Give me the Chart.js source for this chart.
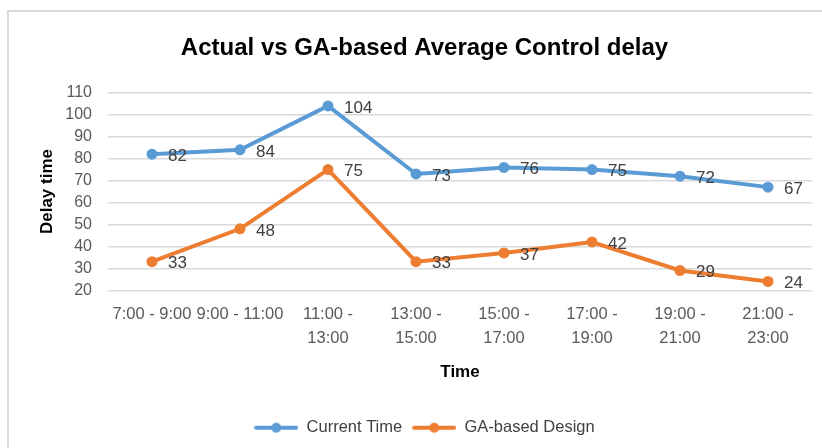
<!DOCTYPE html>
<html>
<head>
<meta charset="utf-8">
<script src="https://cdn.jsdelivr.net/npm/chart.js@4/dist/chart.umd.min.js"></script>
<style>
  html, body { margin: 0; padding: 0; background: #fff; overflow: hidden; }
  #frame { position: absolute; left: 7px; top: 10px; width: 840px; height: 460px; border: 2px solid #d9d9d9; }
  #wrap { position: absolute; left: 0; top: 0; width: 822px; height: 448px; }
</style>
</head>
<body>
<div id="frame"></div>
<div id="wrap"><canvas id="delayChart"></canvas></div>
<script>
const timeSlots = [
   '7:00 - 9:00', '9:00 - 11:00', ['11:00 -', '13:00'], ['13:00 -', '15:00'],
   ['15:00 -', '17:00'], ['17:00 -', '19:00'], ['19:00 -', '21:00'], ['21:00 -', '23:00']
];
const currentTime = [82, 84, 104, 73, 76, 75, 72, 67];
const gaBasedDesign = [33, 48, 75, 33, 37, 42, 29, 24];

const FONT = "'Liberation Sans', Arial, sans-serif";
const BLUE = '#5b9bd5';
const ORANGE = '#ed7d31';

// legend marker: line with a dot, like the office chart
function legendMarker(color) {
   const c = document.createElement('canvas');
   c.width = 44; c.height = 12;
   const ctx = c.getContext('2d');
   ctx.strokeStyle = color;
   ctx.lineWidth = 4;
   ctx.lineCap = 'round';
   ctx.beginPath(); ctx.moveTo(2, 6); ctx.lineTo(42, 6); ctx.stroke();
   ctx.fillStyle = color;
   ctx.beginPath(); ctx.arc(22, 6, 5, 0, Math.PI * 2); ctx.fill();
   return c;
}

// value labels to the right of each point
const valueLabels = {
   id: 'valueLabels',
   afterDatasetsDraw(chart) {
      const ctx = chart.ctx;
      ctx.save();
      ctx.font = '17px ' + FONT;
      ctx.fillStyle = '#404040';
      ctx.textAlign = 'left';
      ctx.textBaseline = 'middle';
      chart.data.datasets.forEach((ds, i) => {
         chart.getDatasetMeta(i).data.forEach((pt, j) => {
            ctx.fillText(ds.data[j], pt.x + 16, pt.y + 2);
         });
      });
      ctx.restore();
   }
};

const dataLine = {
   labels: timeSlots,
   datasets: [
      {
         label: 'Current Time',
         data: currentTime,
         borderColor: BLUE,
         backgroundColor: BLUE,
         borderWidth: 4,
         pointRadius: 5.5,
         pointBorderWidth: 0,
         tension: 0
      },
      {
         label: 'GA-based Design',
         data: gaBasedDesign,
         borderColor: ORANGE,
         backgroundColor: ORANGE,
         borderWidth: 4,
         pointRadius: 5.5,
         pointBorderWidth: 0,
         tension: 0
      }
   ]
};

const configLine = {
   type: 'line',
   data: dataLine,
   plugins: [valueLabels],
   options: {
      responsive: true,
      maintainAspectRatio: false,
      animation: false,
      layout: { padding: { left: 37, right: 10, top: 20, bottom: 2 } },
      plugins: {
         title: {
            display: true,
            text: 'Actual vs GA-based Average Control delay',
            color: '#000',
            font: { family: FONT, size: 24, weight: 'bold' },
            padding: { top: 14, bottom: 30 }
         },
         legend: {
            position: 'bottom',
            labels: {
               color: '#404040',
               font: { family: FONT, size: 16.5 },
               usePointStyle: true,
               pointStyleWidth: 44,
               padding: 10,
               generateLabels(chart) {
                  return chart.data.datasets.map((ds, i) => ({
                     text: ds.label,
                     pointStyle: legendMarker(ds.borderColor),
                     fontColor: '#404040',
                     strokeStyle: ds.borderColor,
                     fillStyle: ds.borderColor,
                     lineWidth: 0,
                     datasetIndex: i
                  }));
               }
            }
         },
         tooltip: { enabled: false }
      },
      scales: {
         x: {
            offset: true,
            grid: { display: false, drawTicks: false },
            border: { display: false },
            ticks: { color: '#595959', font: { family: FONT, size: 16.5, lineHeight: 1.45 }, maxRotation: 0, autoSkip: false, padding: 12 },
            title: { display: true, text: 'Time', color: '#000', font: { family: FONT, size: 17, weight: 'bold' }, padding: { top: 0, bottom: 27 } }
         },
         y: {
            min: 20,
            max: 110,
            grid: { color: '#d9d9d9', lineWidth: 1.5, drawTicks: false },
            border: { display: false },
            ticks: { stepSize: 10, autoSkip: false, color: '#595959', font: { family: FONT, size: 16 }, padding: 16 },
            title: { display: true, text: 'Delay time', color: '#000', font: { family: FONT, size: 17, weight: 'bold' }, padding: { top: 0, bottom: 0 } },
            afterFit(scale) { scale.width = 71; }
         }
      }
   }
};

const lineDiagram = new Chart(document.getElementById('delayChart'), configLine);
</script>
</body>
</html>
